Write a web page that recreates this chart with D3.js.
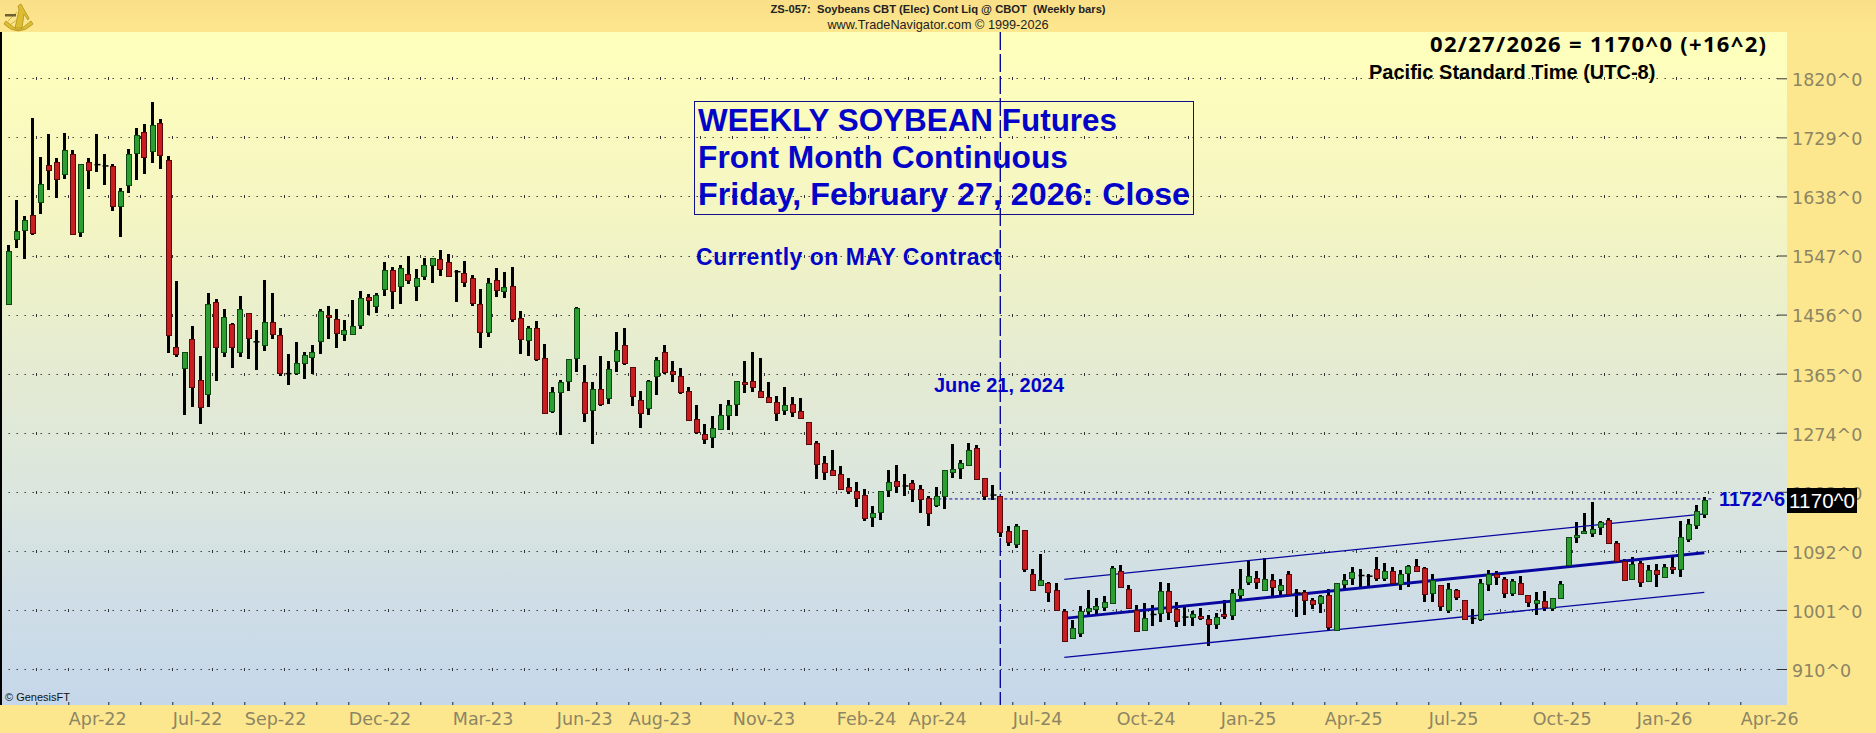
<!DOCTYPE html>
<html><head><meta charset="utf-8">
<style>
html,body{margin:0;padding:0;background:#FDE78E;overflow:hidden}
svg{display:block}
text{font-family:"Liberation Sans",Arial,sans-serif}
.axt text{font-family:"DejaVu Sans",sans-serif}
</style>
<script src="https://cdn.jsdelivr.net/npm/d3@7/dist/d3.min.js"></script>
</head><body>
<svg id="c" width="1876" height="733"></svg>
<script>
const firstBar = "2022-02-04";
const lastAxisWeek = "2026-04-03";
const opens = [1473,1571,1586,1609,1629,1686,1691,1672,1703,1583,1691,1687,1685,1685,1623,1657,1705,1737,1708,1751,1694,1406,1373,1419,1355,1335,1476,1398,1441,1398,1458,1414,1409,1445,1424,1365,1367,1381,1392,1415,1455,1449,1427,1427,1439,1483,1469,1495,1524,1500,1518,1500,1515,1532,1541,1537,
1522,1520,1513,1472,1429,1509,1492,1500,1450,1418,1436,1389,1307,1336,1353,1389,1352,1309,1342,1327,1384,1409,1375,1325,1312,1361,1398,1369,1362,1339,1295,1272,1267,1279,1301,1319,1352,1353,1339,1329,1322,1309,1318,1307,1290,1258,1227,1216,1210,1190,1184,1178,1144,1151,1185,1199,
1192,1196,1187,1173,1162,1176,1213,1219,1225,1250,1204,1178,1176,1122,1104,1124,1057,1040,1042,1031,1000,957,965,999,1002,1005,1011,1061,1033,1001,969,994,996,1030,1002,990,990,991,987,979,994,993,1024,1045,1050,1031,1047,1031,1056,1027,1028,1016,1011,1024,
970,1041,1050,1054,1053,1064,1050,1061,1042,1057,1068,1065,1027,1039,1002,1031,1016,988,986,1041,1057,1048,1027,1042,1024,1011,1014,1004,1019,1071,1113,1119,1119,1128,1139,1104,1076,1048,1074,1045,1062,1052,1067,1064,1111,1131,1148];
const highs = [1563,1633,1608,1759,1698,1734,1697,1735,1709,1688,1697,1734,1704,1688,1651,1711,1743,1749,1783,1757,1701,1507,1398,1438,1392,1489,1480,1464,1443,1484,1459,1432,1509,1489,1436,1395,1413,1398,1409,1464,1469,1464,1447,1478,1492,1487,1489,1537,1529,1532,1547,1526,1543,1543,1555,1549,
1524,1538,1517,1496,1513,1527,1521,1530,1461,1439,1446,1410,1344,1355,1387,1467,1378,1352,1392,1384,1429,1435,1375,1338,1355,1390,1409,1384,1373,1344,1316,1287,1299,1318,1324,1354,1384,1398,1389,1352,1330,1344,1329,1327,1290,1261,1238,1247,1222,1205,1198,1188,1161,1184,1216,1225,
1210,1201,1193,1176,1191,1216,1256,1232,1258,1255,1205,1193,1176,1131,1133,1124,1064,1087,1044,1042,1002,985,1007,1031,1020,1022,1068,1070,1039,1008,1011,1008,1044,1042,1013,1005,999,1004,993,997,1016,1033,1064,1077,1061,1081,1056,1048,1061,1033,1031,1020,1024,1034,
1043,1056,1067,1064,1057,1082,1073,1067,1062,1070,1079,1067,1057,1039,1042,1034,1017,1002,1048,1062,1061,1051,1048,1053,1024,1028,1030,1020,1045,1114,1136,1151,1168,1138,1142,1107,1079,1082,1077,1070,1071,1071,1085,1138,1141,1162,1175];
const lows = [1473,1558,1541,1578,1611,1648,1636,1665,1580,1576,1650,1675,1655,1616,1576,1644,1664,1673,1689,1681,1397,1390,1302,1314,1288,1313,1354,1390,1374,1391,1388,1371,1400,1419,1362,1348,1363,1356,1365,1396,1419,1405,1416,1424,1434,1455,1459,1484,1464,1473,1503,1477,1510,1505,1516,1516,
1476,1498,1469,1404,1422,1483,1481,1444,1396,1392,1384,1304,1304,1270,1339,1367,1290,1256,1315,1318,1367,1378,1315,1282,1302,1332,1365,1352,1333,1292,1272,1256,1250,1279,1278,1299,1335,1336,1327,1322,1292,1302,1298,1296,1255,1202,1201,1208,1187,1179,1159,1138,1128,1139,1175,1181,
1176,1168,1150,1131,1159,1156,1204,1202,1224,1202,1171,1170,1113,1099,1096,1059,1031,1040,1013,1000,954,957,960,993,994,999,1011,1036,1003,968,968,977,982,985,974,976,977,985,945,971,987,985,1017,1039,1033,1031,1022,1024,1025,990,993,1002,997,970,
970,1030,1040,1035,1036,1045,1045,1041,1031,1037,1059,1013,1013,1000,997,1016,985,980,984,1030,1039,1020,1022,1024,1005,993,1000,1000,1019,1068,1104,1118,1113,1116,1104,1076,1047,1048,1037,1045,1037,1051,1057,1051,1105,1125,1142];
const closes = [1554,1584,1601,1582,1657,1678,1665,1709,1580,1688,1679,1687,1685,1624,1646,1704,1732,1698,1748,1701,1424,1395,1398,1345,1313,1473,1406,1452,1406,1464,1419,1414,1445,1426,1366,1365,1382,1393,1399,1461,1452,1427,1433,1439,1481,1478,1486,1524,1492,1527,1509,1512,1532,1543,1526,1516,
1522,1506,1475,1429,1504,1493,1498,1449,1418,1436,1389,1304,1336,1352,1387,1466,1304,1342,1319,1372,1401,1382,1330,1305,1353,1386,1367,1364,1338,1295,1275,1264,1281,1301,1316,1354,1349,1344,1330,1322,1305,1316,1305,1296,1256,1225,1213,1208,1187,1184,1173,1142,1150,1184,1198,1191,
1192,1187,1171,1150,1176,1216,1218,1227,1248,1202,1176,1178,1121,1105,1131,1064,1033,1047,1028,1000,954,973,999,1004,1007,1013,1065,1036,1004,969,988,994,1030,997,983,990,994,988,979,990,991,1027,1034,1054,1044,1048,1036,1039,1025,1027,1016,1010,1022,974,
1043,1047,1059,1054,1053,1050,1061,1042,1057,1068,1061,1025,1047,1007,1034,1020,987,988,1042,1057,1053,1027,1045,1025,1013,1016,1005,1020,1041,1114,1116,1122,1125,1136,1104,1076,1047,1071,1045,1062,1056,1067,1064,1114,1134,1153,1170];

const priceTicks = [1820,1729,1638,1547,1456,1365,1274,1183,1092,1001,910];
const labelMonths = ["2022-04","2022-07","2022-09","2022-12","2023-03","2023-06","2023-08","2023-11","2024-02","2024-04","2024-07","2024-10","2025-01","2025-04","2025-07","2025-10","2026-01","2026-04"];
const channelWeeks = ["2024-08-16","2026-02-27"];
const channelUpper = [1048,1149];
const channelMid = [988,1089];
const channelLower = [928,1028];
const markedWeek = "2024-06-21";
const markedLevel = 1172.75;
const lastClose = "1170^0";
const titleLines = ["WEEKLY SOYBEAN Futures","Front Month Continuous","Friday, February 27, 2026: Close"];

const W=1876,H=733,pr=1787,pt=32,pb=705;
const svg=d3.select("#c");
const parse=d3.utcParse("%Y-%m-%d");
const x=d3.scaleUtc().domain([parse(firstBar),parse(lastAxisWeek)]).range([8.3,1744.3]);
const y=d3.scaleLinear().domain([1820,910]).range([78.3,669]);
const HALF=3.5*864e5;
const bars=opens.map((o,i)=>({date:d3.utcDay.offset(parse(firstBar),7*i),o,h:highs[i],l:lows[i],c:closes[i]}));

const defs=svg.append("defs");
const g1=defs.append("linearGradient").attr("id","plotBg").attr("x1",0).attr("x2",0).attr("y1",0).attr("y2",1);
[[0,"#FFFFBC"],[.12,"#FBFBBE"],[.3,"#F2F4C4"],[.5,"#E4EBD2"],[.7,"#DAE5DF"],[.85,"#CEDDE6"],[1,"#C5D7EA"]].forEach(s=>g1.append("stop").attr("offset",s[0]).attr("stop-color",s[1]));
const g2=defs.append("linearGradient").attr("id","headBg").attr("x1",0).attr("x2",0).attr("y1",0).attr("y2",1);
[[0,"#F9DF88"],[1,"#FDE78E"]].forEach(s=>g2.append("stop").attr("offset",s[0]).attr("stop-color",s[1]));

svg.append("rect").attr("width",W).attr("height",H).attr("fill","#FDE78E");
svg.append("rect").attr("width",W).attr("height",pt).attr("fill","url(#headBg)");
svg.append("rect").attr("x",0).attr("y",pt).attr("width",pr).attr("height",pb-pt).attr("fill","url(#plotBg)");
svg.append("rect").attr("x",0).attr("y",pt).attr("width",2).attr("height",pb-pt).attr("fill","#000");

// month positions: half a week before each month's first Friday bar
const monthStarts=d3.utcMonth.range(Date.UTC(2022,2,1),Date.UTC(2026,4,1));
const monthTicks=monthStarts.map(m=>new Date(+d3.utcFriday.ceil(m)-HALF));
const labelSet=new Set(labelMonths);
const keyF=d3.utcFormat("%Y-%m"), labF=d3.utcFormat("%b-%y");

// grid
const grid=svg.append("g");
const gridEnd=1778;
priceTicks.forEach(p=>{
  grid.append("line").attr("x1",x(bars[0].date)+.2).attr("x2",gridEnd).attr("y1",Math.round(y(p))+.5).attr("y2",Math.round(y(p))+.5)
    .attr("stroke","#333").attr("stroke-width",1).attr("stroke-dasharray","1.4 6.6");
  monthTicks.forEach(t=>{
    grid.append("rect").attr("x",Math.round(x(t))).attr("y",Math.round(y(p))-1).attr("width",1).attr("height",3).attr("fill","#333");
  });
});

// y axis
const yAxis=svg.append("g").attr("class","axt").attr("transform",`translate(${pr},0)`)
  .call(d3.axisRight(y).tickValues(priceTicks).tickSizeInner(-10).tickSizeOuter(0).tickFormat(d=>d+"^0"));
yAxis.select(".domain").remove();
yAxis.selectAll("line").attr("stroke","#333");
yAxis.selectAll("text").attr("fill","#8C8564").attr("font-size",17.5).attr("x",5).attr("dy","0.42em").attr("text-anchor","start");

// x axis
const xAxis=svg.append("g").attr("class","axt").attr("transform",`translate(0,${pb})`)
  .call(d3.axisBottom(x).tickValues(monthTicks).tickSizeInner(-3).tickSizeOuter(0)
    .tickFormat(d=>{const m=new Date(+d+HALF);return labelSet.has(keyF(m))?labF(m):"";}));
xAxis.select(".domain").remove();
xAxis.selectAll("line").attr("stroke","#222");
xAxis.selectAll("text").attr("fill","#8C8564").attr("font-size",17.5).attr("text-anchor","start").attr("y",20).attr("dy",0);

// marked week
svg.append("line").attr("x1",x(parse(markedWeek))).attr("x2",x(parse(markedWeek))).attr("y1",pt).attr("y2",pb)
  .attr("stroke","#0A0A9A").attr("stroke-width",1.4).attr("stroke-dasharray","18 4");
svg.append("line").attr("x1",x(parse("2024-04-19"))-1).attr("x2",x(parse("2026-03-06"))).attr("y1",y(markedLevel)+.5).attr("y2",y(markedLevel)+.5)
  .attr("stroke","#0A0A9A").attr("stroke-width",1).attr("stroke-dasharray","3 2.5");

// wicks
const wk=svg.append("g");
wk.selectAll("rect").data(bars).join("rect")
  .attr("x",d=>Math.round(x(d.date)-1.3)).attr("width",3)
  .attr("y",d=>y(d.h)).attr("height",d=>Math.max(1,y(d.l)-y(d.h))).attr("fill","#000").attr("shape-rendering","crispEdges");

// channel + bodies
const chan=[[channelUpper,1.3],[channelLower,1.3],[channelMid,3]];
const lineGen=d3.line().x(d=>x(d[0])).y(d=>y(d[1]));
const chG=svg.append("g");
const bodies=svg.append("g");
bodies.selectAll("rect").data(bars).join("rect")
  .attr("x",d=>Math.round(x(d.date)-2.8)+.5).attr("width",d=>d.o===d.c?6:5)
  .attr("y",d=>d.o===d.c?y(d.o)-.75:Math.round(y(Math.max(d.o,d.c)))+.5)
  .attr("height",d=>d.o===d.c?1.5:Math.max(2,Math.round(Math.abs(y(d.o)-y(d.c)))))
  .attr("fill",d=>d.c>d.o?"#2D9E32":d.c<d.o?"#C81E22":"#000")
  .attr("stroke",d=>d.c>d.o?"#0C4A12":d.c<d.o?"#560A0C":"none").attr("stroke-width",1);
chan.forEach(c=>chG.append("path").attr("d",lineGen(channelWeeks.map((w,i)=>[parse(w),c[0][i]])))
  .attr("stroke","#0808A0").attr("stroke-width",c[1]).attr("fill","none"));

// annotations
const BLUE="#0404C8";
svg.append("rect").attr("x",694.5).attr("y",101.5).attr("width",499).attr("height",113).attr("fill","none").attr("stroke","#10108C").attr("stroke-width",1);
const titleWidths=[419,370,492];
titleLines.forEach((t,i)=>svg.append("text").attr("x",698).attr("y",[131,168,204.5][i]).text(t)
  .attr("fill",BLUE).attr("font-weight","bold").attr("font-size",32).attr("textLength",titleWidths[i]).attr("lengthAdjust","spacingAndGlyphs"));
svg.append("text").attr("x",696).attr("y",265).text("Currently on MAY Contract").attr("fill",BLUE).attr("font-weight","bold").attr("font-size",23).attr("textLength",305);
svg.append("text").attr("x",934).attr("y",392).text("June 21, 2024").attr("fill",BLUE).attr("font-weight","bold").attr("font-size",20);
svg.append("text").attr("x",1430).attr("y",52).text("02/27/2026 = 1170^0 (+16^2)")
  .attr("fill","#000").attr("font-weight","bold").attr("font-size",22).attr("textLength",336).attr("style","font-family:'Noto Sans'");
svg.append("text").attr("x",1369).attr("y",79).text("Pacific Standard Time (UTC-8)").attr("fill","#000").attr("font-weight","bold").attr("font-size",20);
svg.append("text").attr("x",1719).attr("y",506).text("1172^6").attr("fill",BLUE).attr("font-weight","bold").attr("font-size",20);
svg.append("rect").attr("x",1787).attr("y",488).attr("width",70).attr("height",25).attr("fill","#000");
svg.append("text").attr("x",1789).attr("y",508).text(lastClose).attr("fill","#fff").attr("font-size",20.5).attr("textLength",66);
svg.append("text").attr("x",5).attr("y",701).text("© GenesisFT").attr("fill","#111").attr("font-size",11);

// header
svg.append("text").attr("x",938).attr("y",13).attr("text-anchor","middle").attr("xml:space","preserve")
  .text("ZS-057:  Soybeans CBT (Elec) Cont Liq @ CBOT  (Weekly bars)").attr("fill","#222").attr("font-weight","bold").attr("font-size",11.2);
svg.append("text").attr("x",938).attr("y",29).attr("text-anchor","middle").text("www.TradeNavigator.com © 1999-2026").attr("fill","#222").attr("font-size",12.7);

// logo (sextant)
const logo=svg.append("g").attr("fill","#DDBE30").attr("stroke","#B09020").attr("stroke-width",.8);
logo.append("path").attr("d","M4 24 Q18 38 33 24 L31 21 L21 29 L16 29 L6 21Z");
logo.append("path").attr("d","M21 4 L18 6 L19 10 L15 28 L22 28 L24 14 L28 20 L29 18 L23 8Z");
logo.append("path").attr("d","M8 21 L17 12 M11 24 L17 20").attr("fill","none").attr("stroke","#C8A622");
logo.append("rect").attr("x",5).attr("y",14).attr("width",11).attr("height",2.5).attr("fill","#6E6230").attr("stroke","none");
</script>
</body></html>
